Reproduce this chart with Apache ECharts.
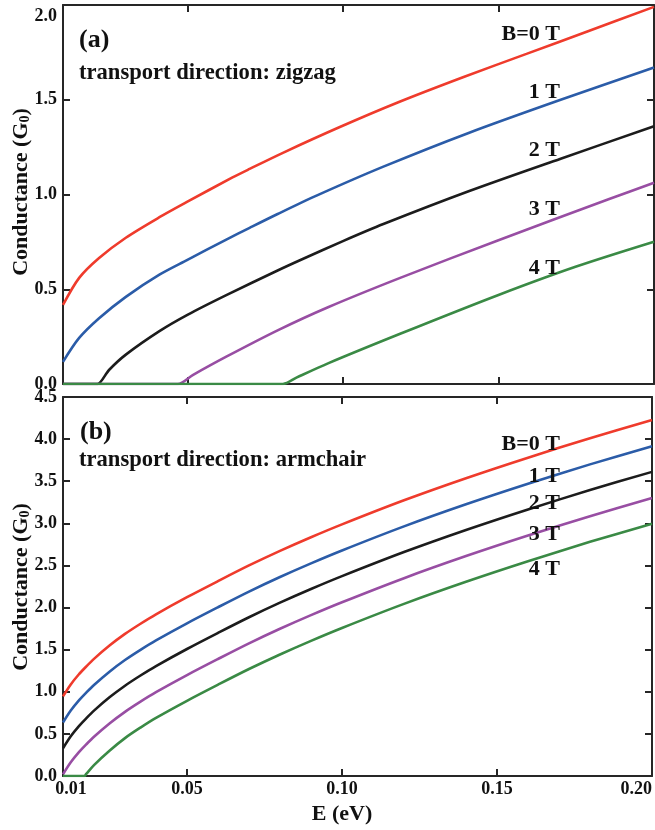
<!DOCTYPE html>
<html>
<head>
<meta charset="utf-8">
<script src="https://cdn.jsdelivr.net/npm/echarts@6/dist/echarts.min.js"></script>
<style>
  html, body { margin: 0; padding: 0; background: #ffffff; }
  #chart { width: 655px; height: 830px; }
</style>
</head>
<body>
<div id="chart"></div>
<script>
// Energy axis ticks (eV) and field labels
const energyTicks = [0.01, 0.05, 0.10, 0.15, 0.20];
const fieldLabels = ['B=0 T', '1 T', '2 T', '3 T', '4 T'];

// (a) zigzag transport direction: [E (eV), G (G0)]
const zigzag0T = [[0.0100,0.417],[0.0152,0.560],[0.0216,0.665],[0.0302,0.772],[0.0410,0.880],[0.0500,0.962],[0.0645,1.090],[0.0700,1.135],[0.0807,1.220],[0.0990,1.356],[0.1180,1.488],[0.1388,1.620],[0.1590,1.742],[0.1790,1.863],[0.2000,1.990]];
const zigzag1T = [[0.0100,0.117],[0.0152,0.243],[0.0216,0.347],[0.0302,0.460],[0.0410,0.577],[0.0500,0.655],[0.0625,0.762],[0.0700,0.824],[0.0790,0.897],[0.0915,0.994],[0.1130,1.147],[0.1404,1.325],[0.1700,1.500],[0.2000,1.670]];
const zigzag2T = [[0.0100,0],[0.0205,0],[0.0211,0],[0.0248,0.074],[0.0302,0.155],[0.0410,0.279],[0.0500,0.365],[0.0625,0.469],[0.0790,0.599],[0.0867,0.657],[0.1000,0.754],[0.1130,0.844],[0.1404,1.017],[0.1700,1.189],[0.2000,1.360]];
const zigzag3T = [[0.0100,0],[0.0462,0],[0.0469,0],[0.0517,0.047],[0.0625,0.144],[0.0790,0.283],[0.0952,0.405],[0.1184,0.560],[0.1500,0.759],[0.1856,0.976],[0.2000,1.062]];
const zigzag4T = [[0.0100,0],[0.0800,0],[0.0807,0],[0.0852,0.035],[0.0952,0.109],[0.1184,0.265],[0.1500,0.470],[0.1750,0.620],[0.2000,0.751]];

// (b) armchair transport direction: [E (eV), G (G0)]
const armchair0T = [[0.0100,0.945],[0.0125,1.087],[0.0150,1.202],[0.0175,1.300],[0.0200,1.391],[0.0250,1.549],[0.0300,1.687],[0.0350,1.808],[0.0400,1.920],[0.0500,2.123],[0.0600,2.314],[0.0700,2.500],[0.0800,2.673],[0.0900,2.835],[0.1000,2.988],[0.1200,3.274],[0.1400,3.536],[0.1600,3.780],[0.1800,4.010],[0.2000,4.226]];
const armchair1T = [[0.0100,0.635],[0.0125,0.777],[0.0150,0.892],[0.0175,0.990],[0.0200,1.081],[0.0250,1.239],[0.0300,1.377],[0.0350,1.498],[0.0400,1.610],[0.0500,1.813],[0.0600,2.004],[0.0700,2.190],[0.0800,2.363],[0.0900,2.525],[0.1000,2.678],[0.1200,2.964],[0.1400,3.226],[0.1600,3.470],[0.1800,3.700],[0.2000,3.916]];
const armchair2T = [[0.0100,0.330],[0.0125,0.472],[0.0150,0.587],[0.0175,0.685],[0.0200,0.776],[0.0250,0.934],[0.0300,1.072],[0.0350,1.193],[0.0400,1.305],[0.0500,1.508],[0.0600,1.699],[0.0700,1.885],[0.0800,2.058],[0.0900,2.220],[0.1000,2.373],[0.1200,2.659],[0.1400,2.921],[0.1600,3.165],[0.1800,3.395],[0.2000,3.611]];
const armchair3T = [[0.0100,0.020],[0.0125,0.162],[0.0150,0.277],[0.0175,0.375],[0.0200,0.466],[0.0250,0.624],[0.0300,0.762],[0.0350,0.883],[0.0400,0.995],[0.0500,1.198],[0.0600,1.389],[0.0700,1.575],[0.0800,1.748],[0.0900,1.910],[0.1000,2.063],[0.1200,2.349],[0.1400,2.611],[0.1600,2.855],[0.1800,3.085],[0.2000,3.301]];
const armchair4T = [[0.0100,0],[0.0163,0],[0.0169,0],[0.0175,0.025],[0.0200,0.130],[0.0250,0.300],[0.0300,0.450],[0.0350,0.575],[0.0400,0.690],[0.0500,0.893],[0.0600,1.084],[0.0700,1.270],[0.0800,1.443],[0.0900,1.605],[0.1000,1.758],[0.1200,2.044],[0.1400,2.306],[0.1600,2.550],[0.1800,2.780],[0.2000,2.996]];

const colors = ['#ef3b2c', '#2b5ca8', '#1c1c1c', '#984ea3', '#3a8a45'];
const FONT = '"Liberation Serif", "Times New Roman", serif';
const AXIS_COLOR = '#262626';

const chart = echarts.init(document.getElementById('chart'), null, { renderer: 'canvas' });

const grids = [
  { left: 63, top: 5, width: 591, height: 379 },
  { left: 63, top: 397, width: 591, height: 379 }
];

function xAxisFor(gridIndex, position, showLabels) {
  return {
    type: 'value', gridIndex, position,
    min: 0.01, max: 0.20,
    axisLine: { show: true, onZero: false, lineStyle: { color: AXIS_COLOR, width: 2 } },
    axisTick: { show: true, inside: true, length: 7, customValues: energyTicks, lineStyle: { color: AXIS_COLOR, width: 2 } },
    axisLabel: {
      show: showLabels, customValues: energyTicks, margin: 4,
      fontFamily: FONT, fontWeight: 'bold', fontSize: 18, color: '#111',
      alignMaxLabel: 'right',
      formatter: v => (Math.abs(v - 0.01) < 1e-9 ? '{lo|' + v.toFixed(2) + '}' : v.toFixed(2)),
      rich: { lo: { fontFamily: FONT, fontWeight: 'bold', fontSize: 18, color: '#111', padding: [0, 0, 0, 16] } }
    },
    splitLine: { show: false }
  };
}

function yAxisFor(gridIndex, position, max, showLabels) {
  return {
    type: 'value', gridIndex, position,
    min: 0, max, interval: 0.5,
    axisLine: { show: true, onZero: false, lineStyle: { color: AXIS_COLOR, width: 2 } },
    axisTick: { show: true, inside: true, length: 7, lineStyle: { color: AXIS_COLOR, width: 2 } },
    axisLabel: {
      show: showLabels, margin: 6,
      fontFamily: FONT, fontWeight: 'bold', fontSize: 18, color: '#111',
      formatter: v => (gridIndex === 0 && Math.abs(v - max) < 1e-9 ? '{top|' + v.toFixed(1) + '}' : v.toFixed(1)),
      rich: { top: { fontFamily: FONT, fontWeight: 'bold', fontSize: 18, color: '#111', padding: [22, 0, 0, 0] } }
    },
    splitLine: { show: false }
  };
}

function lineSeries(data, color, xAxisIndex, yAxisIndex) {
  return {
    type: 'line', data, xAxisIndex, yAxisIndex,
    symbol: 'none', smooth: 0.3,
    lineStyle: { color, width: 2.6 },
    animation: false
  };
}

const zigzagSets = [zigzag0T, zigzag1T, zigzag2T, zigzag3T, zigzag4T];
const armchairSets = [armchair0T, armchair1T, armchair2T, armchair3T, armchair4T];

const series = [];
zigzagSets.forEach((d, i) => series.push(lineSeries(d, colors[i], 0, 0)));
armchairSets.forEach((d, i) => series.push(lineSeries(d, colors[i], 2, 2)));

function txt(x, y, text, size, align) {
  return {
    type: 'text', x, y, z: 100,
    style: {
      text, fontFamily: FONT, fontWeight: 'bold', fontSize: size,
      fill: '#111', align: align || 'left', verticalAlign: 'middle'
    }
  };
}

function yName(y) {
  return {
    type: 'text', x: 21, y, rotation: Math.PI / 2, z: 100,
    style: {
      text: '{m|Conductance (G}{s|0}{m|)}',
      align: 'center', verticalAlign: 'middle', fill: '#111',
      rich: {
        m: { fontFamily: FONT, fontWeight: 'bold', fontSize: 22, lineHeight: 22, verticalAlign: 'top', fill: '#111' },
        s: { fontFamily: FONT, fontWeight: 'bold', fontSize: 14, lineHeight: 14, verticalAlign: 'bottom', padding: [10, 0, 0, 0], fill: '#111' }
      }
    }
  };
}

const topLabelY = [34, 92, 150, 209, 268];
const bottomLabelY = [444, 476, 503, 534, 569];

const graphic = [
  txt(79, 40, '(a)', 26),
  txt(79, 73, 'transport direction: zigzag', 22.6),
  txt(80, 432, '(b)', 26),
  txt(79, 460, 'transport direction: armchair', 22.6),
  txt(342, 814, 'E (eV)', 22, 'center'),
  yName(192),
  yName(587)
];
fieldLabels.forEach((t, i) => {
  graphic.push(txt(560, topLabelY[i], t, 22, 'right'));
  graphic.push(txt(560, bottomLabelY[i], t, 22, 'right'));
});

chart.setOption({
  backgroundColor: '#ffffff',
  animation: false,
  grid: grids,
  xAxis: [
    xAxisFor(0, 'bottom', false),
    xAxisFor(0, 'top', false),
    xAxisFor(1, 'bottom', true),
    xAxisFor(1, 'top', false)
  ],
  yAxis: [
    yAxisFor(0, 'left', 2.0, true),
    yAxisFor(0, 'right', 2.0, false),
    yAxisFor(1, 'left', 4.5, true),
    yAxisFor(1, 'right', 4.5, false)
  ],
  series,
  graphic
});
</script>
</body>
</html>
